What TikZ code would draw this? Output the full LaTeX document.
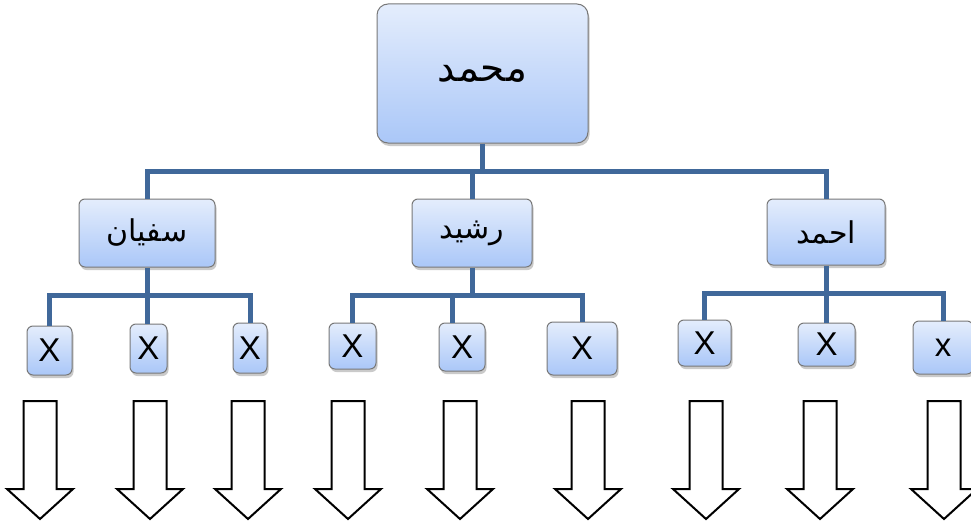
\documentclass[tikz,border=0pt]{standalone}
\usepackage{fontspec}
\setmainfont{Liberation Sans}
\newfontfamily\arabicfont[Script=Arabic]{DejaVu Sans}
\TeXXeTstate=1
\usetikzlibrary{shadows}
\definecolor{boxtop}{RGB}{228,237,252}
\definecolor{boxbot}{RGB}{170,199,248}
\definecolor{boxline}{RGB}{120,120,120}
\definecolor{conncol}{RGB}{64,104,154}
\tikzset{
  box/.style={draw=boxline, line width=1pt, top color=boxtop, bottom color=boxbot,
    rounded corners=6pt, inner sep=0pt, text=black,
    drop shadow={shadow xshift=1.5pt, shadow yshift=-3pt, opacity=0.35, fill=black!60}},
  conn/.style={draw=conncol, line width=5pt},
  blockarrow/.style={draw=black, line width=2pt, fill=white, line join=miter},
  kid/.style={box, font=\fontsize{33}{38}\selectfont},
  mid/.style={box, font=\arabicfont\fontsize{30}{36}\selectfont},
}
\begin{document}
\begin{tikzpicture}[x=1pt,y=-1pt]
\useasboundingbox (0,0) rectangle (971,524);
% nodes
\node[box, rounded corners=11pt, minimum width=211pt, minimum height=139pt, font=\arabicfont\fontsize{39}{45}\selectfont] (top) at (482.5,73.5) {\beginR محمد\endR};
\node[mid, minimum width=136pt, minimum height=68pt] (m1) at (147,233) {\beginR سفيان\endR};
\node[mid, minimum width=120pt, minimum height=68pt] (m2) at (472,233) {\beginR رشيد\endR};
\node[mid, minimum width=118pt, minimum height=66pt] (m3) at (826,232) {\beginR احمد\endR};
\node[kid, minimum width=45pt, minimum height=49pt] (c1) at (49.5,350.5) {X};
\node[kid, minimum width=37pt, minimum height=49pt] (c2) at (148.5,348.5) {X};
\node[kid, minimum width=34pt, minimum height=50pt] (c3) at (250,348) {X};
\node[kid, minimum width=47pt, minimum height=46pt] (c4) at (352.5,346) {X};
\node[kid, minimum width=46pt, minimum height=48pt] (c5) at (462,347) {X};
\node[kid, minimum width=70pt, minimum height=53pt] (c6) at (582,348.5) {X};
\node[kid, minimum width=53pt, minimum height=46pt] (c7) at (704.5,343) {X};
\node[kid, minimum width=57pt, minimum height=43pt] (c8) at (826.5,344.5) {X};
\node[kid, minimum width=60pt, minimum height=53pt] (c9) at (943,347.5) {x};
% bus levels
\coordinate (bus0) at (482,171);
\coordinate (bus1) at (147,295);
\coordinate (bus2) at (472,295);
\coordinate (bus3) at (826,293);
% connectors
\draw[conn] (top.south) -- (top.south |- bus0);
\draw[conn] (m1.north) |- (bus0) -| (m3.north);
\draw[conn] (m2.north) -- (m2.north |- bus0);
\draw[conn] (c1.north) |- (bus1) -| (c3.north);
\draw[conn] (m1.south) -- (m1.south |- c2.north);
\draw[conn] (c4.north) |- (bus2) -| (c6.north);
\draw[conn] (m2.south) -- (bus2);
\draw[conn] ([xshift=-10pt]c5.north) -- ([xshift=-10pt]c5.north |- bus2);
\draw[conn] (c7.north) |- (bus3) -| (c9.north);
\draw[conn] (m3.south) -- (m3.south |- c8.north);
% block arrows
\foreach \cx in {40,150,248,348,460,588,706,820,944}{
  \draw[blockarrow] (\cx-16.5,401) -- (\cx+16.5,401) -- (\cx+16.5,489) -- (\cx+33,489)
    -- (\cx,519) -- (\cx-33,489) -- (\cx-16.5,489) -- cycle;
}
\end{tikzpicture}
\end{document}
